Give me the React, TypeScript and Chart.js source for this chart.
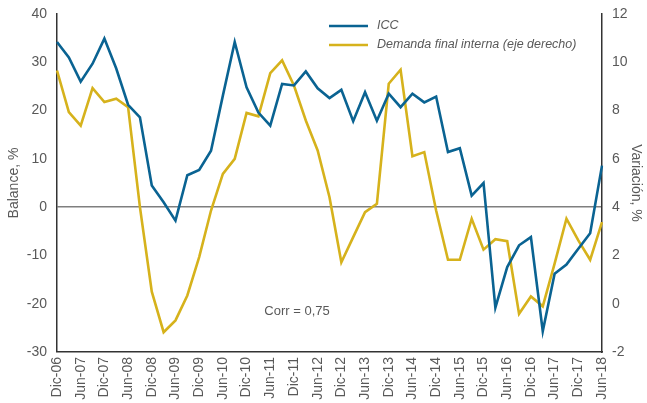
import React, { useEffect, useRef } from "react";
import { Chart, registerables } from "chart.js";

Chart.register(...registerables);

const categories = [
  "Dic-06", "Mar-07", "Jun-07", "Sep-07", "Dic-07", "Mar-08", "Jun-08", "Sep-08",
  "Dic-08", "Mar-09", "Jun-09", "Sep-09", "Dic-09", "Mar-10", "Jun-10", "Sep-10",
  "Dic-10", "Mar-11", "Jun-11", "Sep-11", "Dic-11", "Mar-12", "Jun-12", "Sep-12",
  "Dic-12", "Mar-13", "Jun-13", "Sep-13", "Dic-13", "Mar-14", "Jun-14", "Sep-14",
  "Dic-14", "Mar-15", "Jun-15", "Sep-15", "Dic-15", "Mar-16", "Jun-16", "Sep-16",
  "Dic-16", "Mar-17", "Jun-17", "Sep-17", "Dic-17", "Mar-18", "Jun-18",
];

const icc = [
  34.2, 31.0, 26.0, 29.7, 34.9, 28.7, 21.2, 18.6,
  4.5, 1.0, -2.8, 6.6, 7.7, 11.7, 23.1, 34.2,
  24.8, 19.6, 16.9, 25.5, 25.2, 28.1, 24.6, 22.6,
  24.3, 17.8, 23.8, 17.9, 23.5, 20.7, 23.5, 21.7,
  22.9, 11.4, 12.2, 2.4, 5.0, -20.8, -12.4, -7.9,
  -6.2, -25.7, -13.8, -11.9, -8.6, -5.4, 8.6,
];

const demandaFinalInterna = [
  9.66, 7.94, 7.38, 8.93, 8.35, 8.49, 8.14, 4.0,
  0.5, -1.18, -0.69, 0.34, 1.93, 3.86, 5.38, 6.0,
  7.9, 7.76, 9.55, 10.08, 9.04, 7.59, 6.35, 4.41,
  1.72, 2.76, 3.79, 4.14, 9.11, 9.69, 6.11, 6.28,
  3.86, 1.82, 1.82, 3.52, 2.24, 2.67, 2.59, -0.42,
  0.3, -0.11, 1.66, 3.52, 2.62, 1.82, 3.38,
];

const seriesNames = ["ICC", "Demanda final interna (eje derecho)"];
const corrLabel = "Corr = 0,75";
const leftTitle = "Balance, %";
const rightTitle = "Variación, %";

const BLUE = "#0a6392";
const GOLD = "#d6b21c";
const TEXT = "#595959";
const FONT = "'Liberation Sans', Arial, sans-serif";

export default function App() {
  const ref = useRef<HTMLCanvasElement | null>(null);

  useEffect(() => {
    if (!ref.current) return;

    const overlay = {
      id: "overlay",
      afterDraw(chart: any) {
        const ctx = chart.ctx;
        const x = chart.scales.x;
        const yl = chart.scales.y;
        ctx.save();
        const lx0 = 329, lx1 = 368;
        const rows = [
          { y: 26, color: BLUE, text: seriesNames[0] },
          { y: 45, color: GOLD, text: seriesNames[1] },
        ];
        ctx.lineWidth = 2.5;
        ctx.font = `italic 12.5px ${FONT}`;
        ctx.textBaseline = "middle";
        ctx.textAlign = "left";
        for (const r of rows) {
          ctx.strokeStyle = r.color;
          ctx.beginPath();
          ctx.moveTo(lx0, r.y);
          ctx.lineTo(lx1, r.y);
          ctx.stroke();
          ctx.fillStyle = TEXT;
          ctx.fillText(r.text, 377, r.y);
        }
        ctx.font = `13px ${FONT}`;
        ctx.fillStyle = TEXT;
        ctx.textAlign = "left";
        ctx.fillText(corrLabel, x.getPixelForValue(17.5), yl.getPixelForValue(-21.5));
        ctx.restore();
      },
    };

    const fixV = (w: number) => (s: any) => {
      s.width = w;
      s.paddingTop = 0;
      s.paddingBottom = 0;
    };

    const chart = new Chart(ref.current, {
      type: "line",
      data: {
        labels: categories,
        datasets: [
          {
            label: seriesNames[0],
            data: icc,
            borderColor: BLUE,
            backgroundColor: BLUE,
            borderWidth: 2.6,
            pointRadius: 0,
            tension: 0,
            yAxisID: "y",
          },
          {
            label: seriesNames[1],
            data: demandaFinalInterna,
            borderColor: GOLD,
            backgroundColor: GOLD,
            borderWidth: 2.6,
            pointRadius: 0,
            tension: 0,
            yAxisID: "y2",
          },
        ],
      },
      options: {
        responsive: false,
        animation: false,
        layout: { padding: { top: 14, right: 0, left: 0, bottom: 0 } },
        plugins: {
          legend: { display: false },
          tooltip: { enabled: false },
        },
        scales: {
          x: {
            offset: false,
            grid: { display: false, drawTicks: false },
            border: { display: true, color: "#333333", width: 1.5 },
            ticks: {
              autoSkip: false,
              maxRotation: 90,
              minRotation: 90,
              padding: 5,
              color: TEXT,
              font: { family: FONT, size: 14 },
              callback: (_v: any, i: number) => (i % 2 === 0 ? categories[i] : ""),
            },
            afterFit: (s: any) => {
              s.height = 51;
            },
          },
          y: {
            position: "left",
            min: -30,
            max: 40,
            grid: {
              drawTicks: false,
              color: (c: any) => (c.tick && c.tick.value === 0 ? "#7f7f7f" : "rgba(0,0,0,0)"),
              lineWidth: (c: any) => (c.tick && c.tick.value === 0 ? 1.6 : 0),
            },
            border: { display: true, color: "#333333", width: 1.5 },
            ticks: {
              stepSize: 10,
              padding: 10,
              color: TEXT,
              font: { family: FONT, size: 14 },
            },
            title: {
              display: true,
              text: leftTitle,
              color: TEXT,
              font: { family: FONT, size: 14 },
              padding: { top: 6, bottom: 0 },
            },
            afterFit: fixV(57),
          },
          y2: {
            position: "right",
            min: -2,
            max: 12,
            grid: { display: false, drawTicks: false },
            border: { display: true, color: "#333333", width: 1.5 },
            ticks: {
              stepSize: 2,
              padding: 10,
              color: TEXT,
              font: { family: FONT, size: 14 },
            },
            title: {
              display: true,
              text: rightTitle,
              color: TEXT,
              font: { family: FONT, size: 14 },
              padding: { top: 3, bottom: 0 },
            },
            afterFit: fixV(45),
          },
        },
      },
      plugins: [overlay],
    });

    return () => chart.destroy();
  }, []);

  return (
    <div style={{ position: "fixed", left: 0, top: 0, width: 647, height: 403, background: "#fff" }}>
      <canvas ref={ref} width={647} height={403} style={{ width: 647, height: 403 }} />
    </div>
  );
}
